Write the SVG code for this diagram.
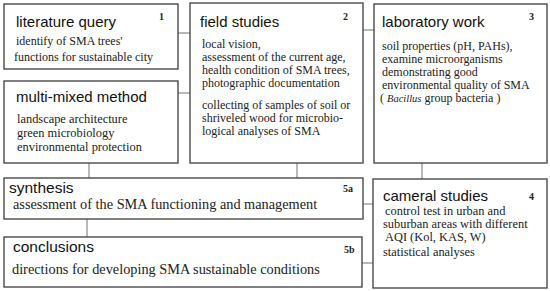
<svg xmlns="http://www.w3.org/2000/svg" width="550" height="291" viewBox="0 0 550 291">
<style>
.box{fill:#fff;stroke:#4a4a4a;stroke-width:1.4}
.conn{stroke:#8a8a8a;stroke-width:1.2;fill:none}
.t{font-family:"Liberation Sans",Arial,sans-serif;font-size:15px;fill:#111}
.b{font-family:"Liberation Serif","Times New Roman",serif;font-size:12px;fill:#222}
.bl{font-family:"Liberation Serif","Times New Roman",serif;font-size:14.3px;fill:#222}
.n{font-family:"Liberation Serif","Times New Roman",serif;font-size:10px;font-weight:bold;fill:#222}
</style>
<rect width="550" height="291" fill="#fff"/>
<g id="connectors">
<line class="conn" x1="178" y1="33" x2="190" y2="33"/>
<line class="conn" x1="178" y1="93" x2="190" y2="93"/>
<line class="conn" x1="363" y1="30" x2="374" y2="30"/>
<line class="conn" x1="89" y1="163" x2="89" y2="178"/>
<line class="conn" x1="297" y1="163" x2="297" y2="178"/>
<line class="conn" x1="422" y1="163" x2="422" y2="179"/>
<line class="conn" x1="87" y1="219" x2="87" y2="237"/>
<line class="conn" x1="363" y1="204" x2="373" y2="204"/>
<line class="conn" x1="362" y1="263" x2="373" y2="263"/>
</g>
<g id="literature">
<rect class="box" x="4" y="4" width="174" height="65"/>
<text class="t" x="16" y="27">literature query</text>
<text class="n" x="159" y="20">1</text>
<text class="b" x="16" y="45">identify of SMA trees'</text>
<text class="b" x="14" y="61">functions for sustainable city</text>
</g>
<g id="multimixed">
<rect class="box" x="4" y="81" width="174" height="82"/>
<text class="t" x="16" y="102">multi-mixed method</text>
<text class="b" x="17" y="123" style="font-size:12.4px">landscape architecture</text>
<text class="b" x="17" y="137" style="font-size:12.4px">green microbiology</text>
<text class="b" x="17" y="151" style="font-size:12.4px">environmental protection</text>
</g>
<g id="field">
<rect class="box" x="190" y="3" width="173" height="160"/>
<text class="t" x="200" y="27">field studies</text>
<text class="n" x="343" y="20">2</text>
<text class="b" x="202" y="48">local vision,</text>
<text class="b" x="202" y="61">assessment of the current age,</text>
<text class="b" x="202" y="74">health condition of SMA trees,</text>
<text class="b" x="202" y="87">photographic documentation</text>
<text class="b" x="202" y="109">collecting of samples of soil or</text>
<text class="b" x="202" y="122">shriveled wood for microbio-</text>
<text class="b" x="202" y="135">logical analyses of SMA</text>
</g>
<g id="laboratory">
<rect class="box" x="374" y="4" width="173" height="159"/>
<text class="t" x="382" y="27">laboratory work</text>
<text class="n" x="529" y="20">3</text>
<text class="b" x="382" y="50">soil properties (pH, PAHs),</text>
<text class="b" x="382" y="63">examine microorganisms</text>
<text class="b" x="382" y="76">demonstrating good</text>
<text class="b" x="382" y="89">environmental quality of SMA</text>
<text class="b" x="380" y="102">( <tspan font-style="italic" font-size="10.5">Bacillus</tspan> group bacteria )</text>
</g>
<g id="synthesis">
<rect class="box" x="4" y="178" width="359" height="41"/>
<text class="t" x="9" y="193" style="font-size:15.5px">synthesis</text>
<text class="n" x="343" y="192">5a</text>
<text class="bl" x="13" y="209">assessment of the SMA functioning and management</text>
</g>
<g id="conclusions">
<rect class="box" x="4" y="237" width="358" height="50"/>
<text class="t" x="13" y="252" style="font-size:15.5px">conclusions</text>
<text class="n" x="344" y="253">5b</text>
<text class="bl" x="12" y="274">directions for developing SMA sustainable conditions</text>
</g>
<g id="cameral">
<rect class="box" x="373" y="179" width="174" height="109"/>
<text class="t" x="383" y="201">cameral studies</text>
<text class="n" x="529" y="200">4</text>
<text class="b" x="385" y="215" style="font-size:12.4px">control test in urban and</text>
<text class="b" x="383" y="228" style="font-size:12.4px">suburban areas with different</text>
<text class="b" x="385" y="241" style="font-size:12.4px">AQI (Kol, KAS, W)</text>
<text class="b" x="383" y="256" style="font-size:12.4px">statistical analyses</text>
</g>
</svg>
